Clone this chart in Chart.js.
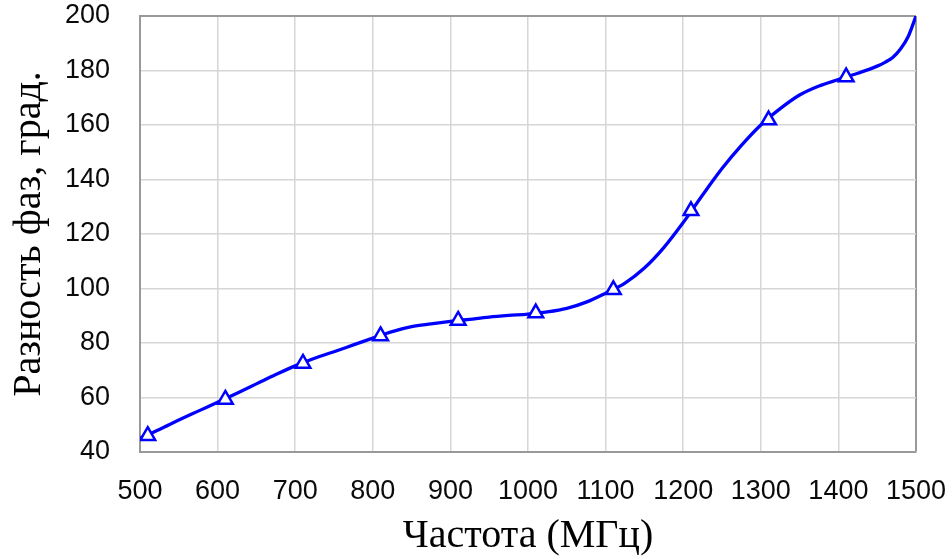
<!DOCTYPE html>
<html><head><meta charset="utf-8">
<style>html,body{margin:0;padding:0;background:#fff}#wrap{width:952px;height:560px}</style>
<script src="https://cdn.jsdelivr.net/npm/chart.js@4/dist/chart.umd.min.js"></script>
</head><body><div id="wrap"><canvas id="c" width="952" height="560"></canvas></div>
<script>
const freqs = [500, 525, 550, 575, 600, 625, 650, 675, 700, 725, 750, 775, 800, 825, 850, 875, 900, 925, 950, 975, 1000, 1025, 1050, 1075, 1100, 1125, 1150, 1175, 1200, 1225, 1250, 1275, 1300, 1325, 1350, 1375, 1400, 1425, 1450, 1460, 1470, 1480, 1490, 1500];
const phase = [45.1, 48.3, 51.7, 55.0, 58.3, 61.6, 65.0, 68.4, 71.6, 74.4, 76.8, 79.3, 81.8, 84.2, 86.0, 87.0, 87.9, 88.7, 89.5, 90.1, 90.6, 91.4, 92.7, 95.0, 98.3, 102.0, 107.5, 115.0, 124.2, 134.3, 144, 152.5, 160, 166, 171, 174.3, 176.7, 179, 181.6, 183.0, 184.8, 187.9, 192.5, 200];
const markerFreqs = [510, 610, 710, 810, 910, 1010, 1110, 1210, 1310, 1410];
const markerPhase = [46, 59.3, 72.5, 82.6, 88.3, 91.0, 99.5, 128.5, 161.8, 177.6];
const xTicks = [500, 600, 700, 800, 900, 1000, 1100, 1200, 1300, 1400, 1500];
const yTicks = [40, 60, 80, 100, 120, 140, 160, 180, 200];
const xTitle = 'Частота (МГц)';
const yTitle = 'Разность фаз, град.';

const linePts = freqs.map((f, i) => ({x: f, y: phase[i]}));
const markerPts = markerFreqs.map((f, i) => ({x: f, y: markerPhase[i]}));

const gridColor = (edge) => (ctx) => (ctx.tick && ctx.tick.value === edge) ? '#999999' : '#d6d6d6';
const gridWidth = (edge) => (ctx) => (ctx.tick && ctx.tick.value === edge) ? 2 : 1.5;
const noPad = s => { s.paddingTop = 0; s.paddingBottom = 0; s.paddingLeft = 0; s.paddingRight = 0; };

new Chart(document.getElementById('c'), {
  type: 'scatter',
  data: {
    datasets: [
      {
        data: markerPts, showLine: false, order: 0,
        pointStyle: 'triangle', pointRadius: 8.5, pointBorderWidth: 2.5,
        pointBorderColor: '#0000ff', pointBackgroundColor: '#ffffff'
      },
      {
        data: linePts, showLine: true, order: 1,
        borderColor: '#0000ff', borderWidth: 3.3, pointRadius: 0,
        cubicInterpolationMode: 'monotone', fill: false
      }
    ]
  },
  options: {
    responsive: false, animation: false, devicePixelRatio: 1,
    layout: {padding: {left: 0, right: 36, top: 16, bottom: 0}},
    plugins: {legend: {display: false}, tooltip: {enabled: false}},
    scales: {
      x: {
        type: 'linear', min: 500, max: 1500,
        afterBuildTicks: s => { s.ticks = xTicks.map(v => ({value: v})); },
        afterFit: s => { s.height = 108; noPad(s); },
        grid: {drawTicks: false, color: gridColor(1500), lineWidth: gridWidth(1500)},
        border: {display: true, color: '#999999', width: 2},
        ticks: {padding: 23, color: '#0a0a0a', maxRotation: 0, autoSkip: false, callback: v => String(v), font: {family: 'Liberation Sans', size: 27}},
        title: {display: true, text: xTitle, color: '#000', padding: {top: 0, bottom: 0}, font: {family: 'Liberation Serif', size: 40}}
      },
      y: {
        type: 'linear', min: 40, max: 200,
        afterBuildTicks: s => { s.ticks = yTicks.map(v => ({value: v})); },
        afterFit: s => { s.width = 140; noPad(s); },
        grid: {drawTicks: false, color: gridColor(200), lineWidth: gridWidth(200)},
        border: {display: true, color: '#999999', width: 2},
        ticks: {padding: 30, color: '#0a0a0a', autoSkip: false, callback: v => String(v), font: {family: 'Liberation Sans', size: 27}},
        title: {display: true, text: yTitle, color: '#000', padding: {top: 5, bottom: 0}, font: {family: 'Liberation Serif', size: 40}}
      }
    }
  }
});
</script>
</body></html>
